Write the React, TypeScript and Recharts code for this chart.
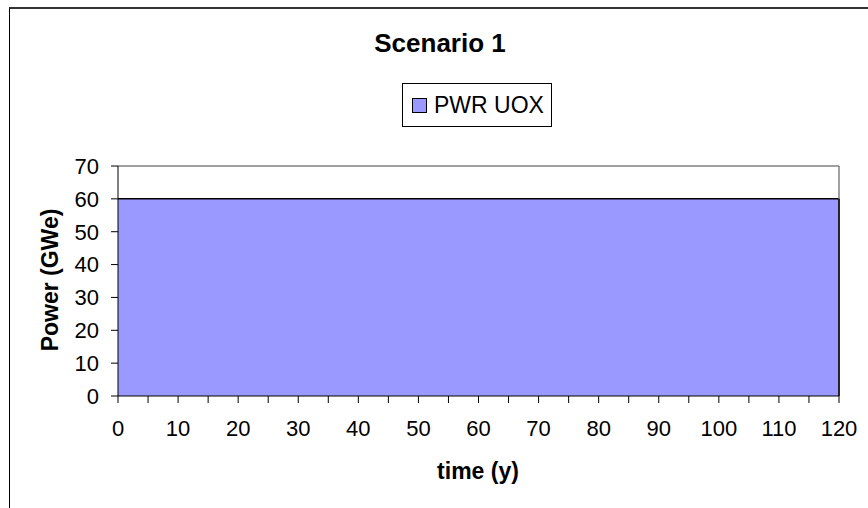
import React from "react";
import {
  ComposedChart,
  Area,
  XAxis,
  YAxis,
  ReferenceLine,
} from "recharts";

const years = [0, 10, 20, 30, 40, 50, 60, 70, 80, 90, 100, 110, 120];
const pwrUox = [60, 60, 60, 60, 60, 60, 60, 60, 60, 60, 60, 60, 60];
const xTicks = [0, 5, 10, 15, 20, 25, 30, 35, 40, 45, 50, 55, 60, 65, 70, 75, 80, 85, 90, 95, 100, 105, 110, 115, 120];
const yTicks = [0, 10, 20, 30, 40, 50, 60, 70];
const seriesName = "PWR UOX";

const data = years.map((year, i) => ({ year, pwr: pwrUox[i] }));

const FONT = "'Liberation Sans', Arial, sans-serif";
const AREA_FILL = "#9999FF";

function LegendBox() {
  return (
    <div
      style={{
        position: "absolute",
        left: 402,
        top: 83,
        boxSizing: "border-box",
        width: 150,
        height: 44,
        border: "1px solid #000",
        background: "#fff",
        display: "flex",
        alignItems: "center",
        paddingLeft: 9,
        fontSize: 23,
        color: "#000",
      }}
    >
      <span
        style={{
          display: "inline-block",
          width: 13,
          height: 13,
          background: AREA_FILL,
          border: "1px solid #000",
          marginRight: 7,
        }}
      />
      {seriesName}
    </div>
  );
}

export default function App() {
  const last = data.length - 1;

  return (
    <div style={{ position: "absolute", left: 0, top: 0, width: 868, height: 508, background: "#fff", fontFamily: FONT }}>
      {/* frame */}
      <div style={{ position: "absolute", left: 9, top: 7, width: 859, height: 501, borderTop: "2px solid #333", borderLeft: "1px solid #000" }} />

      <div style={{ position: "absolute", left: 0, top: 28, width: 880, textAlign: "center", fontSize: 26, fontWeight: "bold" }}>
        Scenario 1
      </div>

      <ComposedChart
        width={868}
        height={508}
        data={data}
        margin={{ top: 166, right: 29, bottom: 72, left: 0 }}
        style={{ position: "absolute", left: 0, top: 0 }}
      >
        <XAxis
          dataKey="year"
          type="number"
          domain={[0, 120]}
          ticks={xTicks}
          interval={0}
          tickFormatter={(v: number) => (v % 10 === 0 ? String(v) : "")}
          height={40}
          tickSize={7}
          tickMargin={17}
          axisLine={{ stroke: "#000" }}
          tickLine={{ stroke: "#000" }}
          tick={{ fill: "#000", fontSize: 22, fontFamily: FONT }}
        />
        <YAxis
          type="number"
          domain={[0, 70]}
          ticks={yTicks}
          interval={0}
          width={118}
          tickSize={7}
          tickMargin={12}
          axisLine={{ stroke: "#000" }}
          tickLine={{ stroke: "#000" }}
          tick={{ fill: "#000", fontSize: 22, fontFamily: FONT }}
        />
        <ReferenceLine y={70} stroke="#808080" strokeWidth={1.5} />
        <ReferenceLine x={120} stroke="#808080" strokeWidth={1.5} />
        <Area
          type="linear"
          dataKey="pwr"
          name={seriesName}
          stroke="#000"
          strokeWidth={1.5}
          fill={AREA_FILL}
          fillOpacity={1}
          isAnimationActive={false}
        />
        <ReferenceLine
          segment={[
            { x: data[last].year, y: 0 },
            { x: data[last].year, y: data[last].pwr },
          ]}
          stroke="#000"
          strokeWidth={1.5}
        />
      </ComposedChart>

      <LegendBox />

      <div style={{ position: "absolute", left: 378, top: 458, width: 200, textAlign: "center", fontSize: 23, fontWeight: "bold" }}>
        time (y)
      </div>
      <div
        style={{
          position: "absolute",
          left: 50,
          top: 280,
          transform: "translate(-50%, -50%) rotate(-90deg)",
          whiteSpace: "nowrap",
          fontSize: 23,
          fontWeight: "bold",
        }}
      >
        Power (GWe)
      </div>
    </div>
  );
}
